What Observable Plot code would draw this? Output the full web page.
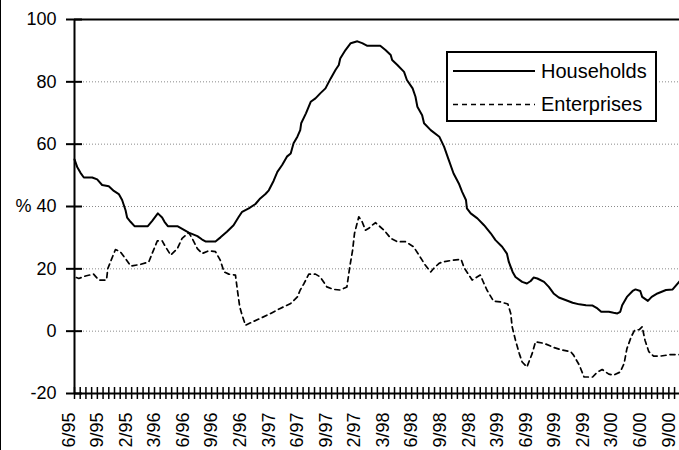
<!DOCTYPE html>
<html>
<head>
<meta charset="utf-8">
<script src="https://cdn.jsdelivr.net/npm/d3@7"></script>
<script src="https://cdn.jsdelivr.net/npm/@observablehq/plot@0.6"></script>
<style>
  html, body { margin: 0; padding: 0; background: #fff; }
  #wrap { position: relative; width: 679px; height: 450px; overflow: hidden; font-family: "Liberation Sans", Arial, sans-serif; }
  #edge { position: absolute; left: 0; top: 0; width: 1px; height: 450px; background: #000; }
  #legend { position: absolute; left: 446px; top: 51px; width: 211px; height: 71px; box-sizing: border-box; border: 2px solid #000; background: #fff; }
  #legend svg { position: absolute; left: 0; top: 0; }
  #legend .lab { position: absolute; left: 93px; font-size: 20px; line-height: 20px; color: #000; }
</style>
</head>
<body>
<div id="wrap"><div id="chart"></div><div id="edge"></div>
  <div id="legend">
    <svg width="207" height="67">
      <line x1="5" x2="87" y1="18" y2="18" stroke="#000" stroke-width="2"></line>
      <line x1="5" x2="87" y1="51.5" y2="51.5" stroke="#000" stroke-width="1.3" stroke-dasharray="5,4"></line>
    </svg>
    <div class="lab" id="lab0" style="top:8px">Households</div>
    <div class="lab" id="lab1" style="top:41px">Enterprises</div>
  </div>
</div>
<script>
// Series names
const seriesNames = ["Households", "Enterprises"];

// Households: months since first observation, value (%)
const hhMonth = [0, 0.28, 0.63, 0.98, 1.86, 2.38, 2.9, 3.6, 4.13, 4.65, 5.0, 5.36, 5.53, 5.88, 6.3, 7.7, 8.16, 8.75, 9.2, 9.45, 9.8, 10.8, 12.0, 12.9, 13.4, 13.75, 14.8, 15.33, 16.0, 16.7, 17.25, 17.6, 18.3, 19.0, 19.5, 20.05, 20.4, 20.9, 21.3, 21.8, 22.3, 22.7, 23.0, 23.4, 23.7, 23.8, 24.3, 24.8, 25.3, 25.8, 26.35, 26.9, 27.4, 27.75, 27.9, 28.45, 29.0, 29.7, 30.2, 30.7, 32.1, 32.65, 33.2, 33.35, 33.9, 34.6, 34.9, 35.5, 35.8, 36.0, 36.5, 36.7, 37.4, 38.3, 38.8, 39.3, 39.8, 40.35, 40.7, 41.1, 41.2, 41.6, 42.3, 43.0, 43.7, 44.2, 44.9, 45.4, 45.6, 46.0, 46.3, 47.0, 47.5, 47.9, 48.2, 48.6, 49.3, 49.8, 50.3, 50.85, 51.55, 52.3, 53.0, 53.7, 54.4, 54.9, 55.3, 56.1, 56.6, 57.0, 57.3, 57.5, 58.0, 58.6, 58.9, 59.4, 59.6, 60.2, 60.6, 61.2, 62.1, 62.8, 63.52];
const hhValue = [55.1, 52.7, 50.8, 49.3, 49.3, 48.7, 46.9, 46.5, 45.0, 44.0, 42.1, 38.8, 36.4, 35.1, 33.7, 33.7, 35.4, 37.8, 36.5, 35.1, 33.7, 33.7, 31.6, 30.5, 29.4, 28.8, 28.8, 30.1, 31.9, 34.0, 36.7, 38.3, 39.4, 40.8, 42.6, 44.0, 45.2, 48.2, 51.1, 53.3, 56.0, 57.0, 60.3, 62.4, 64.5, 66.7, 69.9, 73.6, 74.7, 76.3, 77.9, 81.1, 83.8, 85.4, 87.5, 90.2, 92.4, 93.0, 92.4, 91.6, 91.6, 90.2, 88.6, 87.0, 85.4, 83.2, 80.6, 77.9, 75.2, 72.0, 69.3, 66.7, 64.5, 62.4, 59.2, 54.9, 50.6, 47.4, 44.7, 42.1, 39.4, 37.8, 36.2, 34.0, 31.4, 29.2, 27.1, 24.9, 22.2, 19.0, 17.4, 15.8, 15.3, 16.1, 17.2, 16.9, 15.8, 14.2, 12.1, 10.8, 10.0, 9.1, 8.6, 8.3, 8.2, 7.3, 6.2, 6.2, 5.9, 5.7, 6.2, 8.3, 11.0, 12.9, 13.4, 12.9, 11.0, 9.7, 11.0, 12.1, 13.2, 13.4, 16.0];

// Enterprises: months since first observation, value (%)
const entMonth = [0.2, 0.45, 1.15, 2.0, 2.55, 3.36, 3.5, 3.85, 4.3, 4.8, 5.35, 5.9, 6.9, 7.8, 8.15, 8.7, 9.2, 9.55, 10.1, 10.8, 11.3, 12.0, 12.35, 12.9, 13.4, 14.1, 14.8, 15.3, 15.7, 16.2, 16.9, 17.1, 17.35, 17.6, 17.95, 18.5, 19.5, 20.6, 21.6, 22.7, 23.4, 23.7, 24.1, 24.6, 25.3, 25.8, 26.5, 27.2, 27.9, 28.6, 28.9, 29.2, 29.4, 29.85, 30.2, 30.55, 30.9, 31.25, 31.6, 32.5, 33.2, 33.9, 34.75, 35.6, 36.5, 36.7, 37.4, 37.7, 38.25, 38.6, 39.8, 40.6, 40.9, 41.75, 42.6, 43.3, 44.0, 44.7, 45.5, 45.8, 45.95, 46.3, 46.7, 47.0, 47.5, 48.05, 48.4, 49.3, 50.3, 51.0, 52.1, 52.4, 53.0, 53.5, 54.4, 54.9, 55.4, 56.1, 56.6, 57.3, 57.7, 58.0, 58.45, 58.8, 59.3, 59.6, 59.9, 60.3, 60.8, 61.5, 62.6, 63.52];
const entValue = [17.2, 16.9, 17.7, 18.3, 16.4, 16.4, 20.1, 22.8, 26.2, 25.5, 23.3, 20.9, 21.4, 22.2, 24.9, 29.0, 29.0, 27.1, 24.4, 26.5, 29.8, 31.6, 29.8, 26.5, 24.9, 25.8, 25.5, 22.8, 19.0, 18.3, 18.0, 13.2, 7.8, 5.1, 1.9, 2.7, 4.1, 5.7, 7.3, 8.9, 11.0, 13.2, 15.3, 18.3, 18.3, 17.4, 14.2, 13.4, 13.2, 14.2, 20.6, 26.0, 31.4, 36.7, 35.1, 32.4, 33.0, 34.0, 34.8, 32.4, 29.8, 28.7, 28.7, 27.1, 22.8, 21.7, 19.0, 20.1, 21.7, 22.2, 22.8, 23.0, 20.4, 16.4, 18.0, 13.2, 9.6, 9.4, 8.7, 5.7, 1.4, -2.9, -7.2, -9.9, -11.5, -7.2, -3.4, -3.9, -5.2, -5.9, -6.6, -7.7, -10.9, -14.7, -14.7, -13.1, -12.3, -13.8, -14.1, -13.1, -10.4, -5.6, -1.8, 0.3, 0.5, 1.4, -2.9, -6.6, -8.0, -8.0, -7.5, -7.5];

// Axis tick labels, as they appear in the picture (the December labels show only "2/yy")
const xTickLabels = ["6/95", "9/95", "2/95", "3/96", "6/96", "9/96", "2/96", "3/97", "6/97", "9/97", "2/97", "3/98", "6/98", "9/98", "2/98", "3/99", "6/99", "9/99", "2/99", "3/00", "6/00", "9/00"];
const yTicks = [-20, 0, 20, 40, 60, 80, 100];
const yGrid = [0, 20, 40, 60, 80];
const yLabel = "%";

const hh = hhMonth.map((m, i) => ({m, v: hhValue[i]}));
const ent = entMonth.map((m, i) => ({m, v: entValue[i]}));
const labelPos = xTickLabels.map((_, k) => 3 * k - 0.6);
const minorTicks = d3.range(0, 106).map(j => j * 0.6).filter(d => d <= 63.52);

const chart = Plot.plot({
  width: 679,
  height: 450,
  marginLeft: 74,
  marginRight: 0,
  marginTop: 19,
  marginBottom: 57,
  style: {fontFamily: '"Liberation Sans", Arial, sans-serif', fontSize: "18px", background: "#fff", color: "#000"},
  x: {domain: [0, 63.52], axis: null},
  y: {domain: [-20, 100], axis: null},
  marks: [
    Plot.gridY(yGrid, {stroke: "#8a8a8a", strokeOpacity: 1, strokeDasharray: "1,2", strokeWidth: 1}),
    Plot.ruleY([100], {stroke: "#000", strokeWidth: 2}),
    Plot.line(ent, {x: "m", y: "v", stroke: "#000", strokeWidth: 1.7, strokeDasharray: "5,4"}),
    Plot.line(hh, {x: "m", y: "v", stroke: "#000", strokeWidth: 2}),
    Plot.ruleX([0], {stroke: "#000", strokeWidth: 2}),
    Plot.ruleY([-20], {stroke: "#000", strokeWidth: 2}),
    // crossing tick marks on the y axis
    Plot.ruleY(yTicks, {y: d => d, stroke: "#000", strokeWidth: 2, insetLeft: -8, insetRight: 597}),
    // crossing tick marks on the x axis
    Plot.ruleX(minorTicks, {x: d => d, stroke: "#000", strokeWidth: 1.5, insetTop: 368, insetBottom: -6}),
    Plot.axisY(yTicks, {anchor: "left", tickSize: 0, tickPadding: 18, label: null, fontSize: 18, fill: "#000",
      tickFormat: d => d === 40 ? yLabel + " " + d : String(d)}),
    Plot.text(labelPos, {x: d => d, frameAnchor: "bottom", text: (d, i) => xTickLabels[i], rotate: -90,
      textAnchor: "end", lineAnchor: "middle", dy: 19, fontSize: 18, fill: "#000"})
  ]
});
document.getElementById("chart").appendChild(chart);
document.getElementById("lab0").textContent = seriesNames[0];
document.getElementById("lab1").textContent = seriesNames[1];
</script>
</body>
</html>
